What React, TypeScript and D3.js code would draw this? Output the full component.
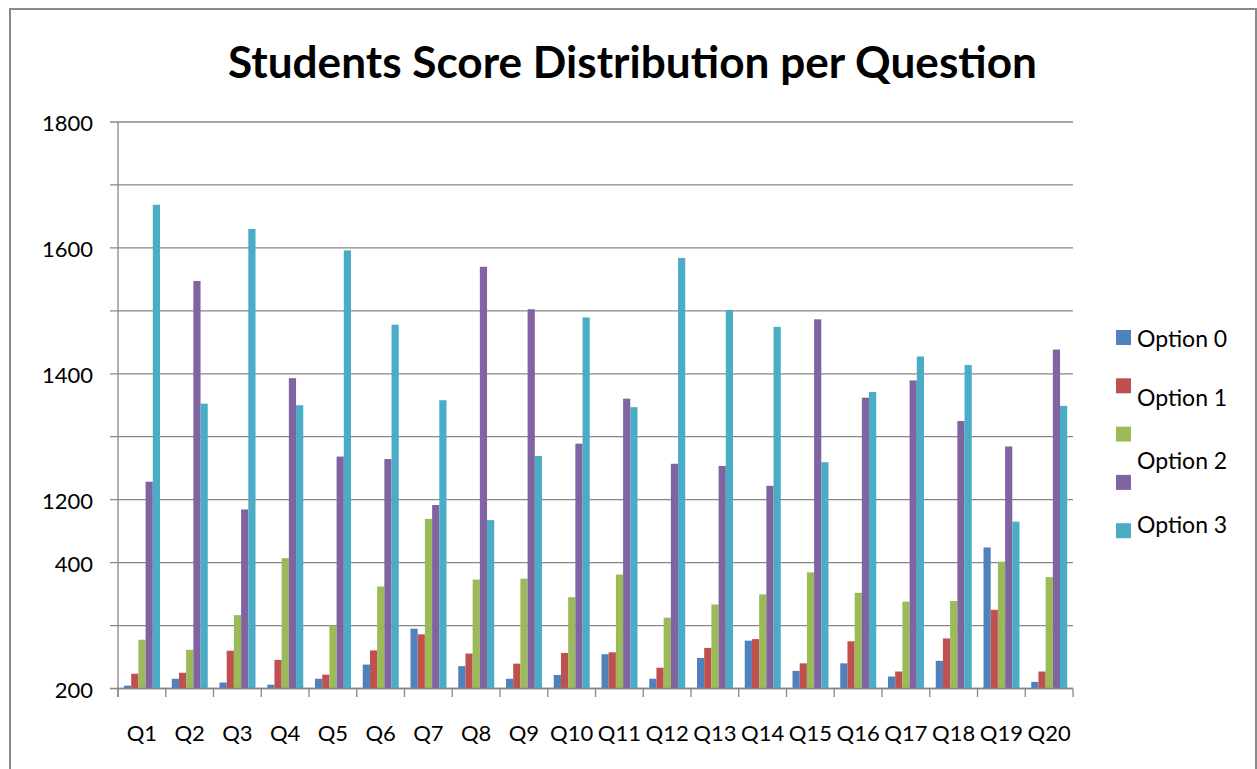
import React from "react";
import * as d3 from "d3";

const categories = ["Q1","Q2","Q3","Q4","Q5","Q6","Q7","Q8","Q9","Q10","Q11","Q12","Q13","Q14","Q15","Q16","Q17","Q18","Q19","Q20"];

const seriesA = [9, 31, 19, 12, 31, 76, 190, 71, 31, 43, 109, 31, 97, 152, 56, 80, 38, 88, 448, 21];
const seriesB = [47, 50, 120, 91, 44, 121, 172, 111, 79, 113, 115, 66, 129, 157, 80, 150, 54, 159, 250, 54];
const seriesC = [155, 123, 233, 414, 200, 324, 539, 346, 349, 290, 362, 225, 267, 299, 369, 304, 276, 278, 403, 354];
const seriesD = [657, 1295, 569, 986, 737, 729, 583, 1340, 1205, 778, 921, 714, 707, 644, 1173, 924, 979, 850, 769, 1077];
const seriesE = [1537, 905, 1460, 900, 1392, 1156, 916, 535, 739, 1179, 894, 1368, 1203, 1149, 719, 942, 1055, 1028, 530, 898];

const allSeries = [seriesA, seriesB, seriesC, seriesD, seriesE];
const seriesColors = ["#4F81BD", "#C0504D", "#9BBB59", "#8064A2", "#4BACC6"];
const legendLabels = ["Option 0", "Option 1", "Option 2", "Option 3"];

// gridline values (every 200) and their printed labels
const gridValues = [0, 200, 400, 600, 800, 1000, 1200, 1400, 1600, 1800];
const gridLabels = ["200", "", "400", "1200", "", "1400", "", "1600", "", "1800"];

const title = "Students Score Distribution per Question";

export default function App() {
  const W = 1257, H = 769;
  const left = 118, right = 1073, top = 122, bottom = 688.5;
  const font = "Lato, 'Open Sans', sans-serif";

  const x0 = d3.scaleBand<string>().domain(categories).range([left, right]).padding(0);
  const x1 = d3.scaleBand<number>().domain(d3.range(allSeries.length)).range([6, x0.bandwidth() - 5.75]).padding(0);
  const y = d3.scaleLinear().domain([0, 1800]).range([bottom, top]);

  const grid = "#878787";
  const legendX = 1116;
  const legendSquareY = [330, 378.3, 426.6, 474.9, 523.2];
  const legendTextY = [346.5, 405.5, 468.5, 532.5];

  return (
    <svg width={W} height={H} style={{ position: "absolute", left: 0, top: 0, background: "#fff" }}>
      <rect x={0} y={0} width={W} height={H} fill="#fff" />
      <rect x={10} y={9} width={1246} height={800} fill="none" stroke="#8a8a8a" strokeWidth={2} />
      <text x={632.5} y={78} textAnchor="middle" fontFamily={font} fontWeight="bold" fontSize={44} fill="#000"
        textLength={809} lengthAdjust="spacingAndGlyphs">{title}</text>

      {/* gridlines + y ticks */}
      {gridValues.map((v, i) => (
        <g key={"g" + i}>
          <line x1={110} x2={right} y1={y(v)} y2={y(v)} stroke={grid} strokeWidth={1.3} />
          {gridLabels[i] && (
            <text x={93} y={y(v) + 9} textAnchor="end" fontFamily={font} fontSize={22} fill="#000">{gridLabels[i]}</text>
          )}
        </g>
      ))}

      {/* bars */}
      {categories.map((c, ci) => (
        <g key={c} transform={`translate(${x0(c)},0)`}>
          {allSeries.map((s, si) => (
            <rect key={si} x={x1(si)} width={x1.bandwidth()} y={y(s[ci])} height={bottom - y(s[ci])} fill={seriesColors[si]} />
          ))}
        </g>
      ))}

      {/* axes */}
      <line x1={left} x2={left} y1={top} y2={697} stroke={grid} strokeWidth={1.3} />
      <line x1={left} x2={right} y1={bottom} y2={bottom} stroke={grid} strokeWidth={1.3} />
      {categories.map((c, i) => (
        <line key={"t" + i} x1={x0(c)!} x2={x0(c)!} y1={bottom} y2={697} stroke={grid} strokeWidth={1.3} />
      ))}
      <line x1={right} x2={right} y1={bottom} y2={697} stroke={grid} strokeWidth={1.3} />
      {categories.map((c) => (
        <text key={"l" + c} x={x0(c)! + x0.bandwidth() / 2} y={741} textAnchor="middle" fontFamily={font} fontSize={22} fill="#000">{c}</text>
      ))}

      {/* legend */}
      {seriesColors.map((col, i) => (
        <rect key={"ls" + i} x={legendX} y={legendSquareY[i]} width={15} height={15} fill={col} />
      ))}
      {legendLabels.map((l, i) => (
        <text key={"lt" + i} x={1137} y={legendTextY[i]} fontFamily={font} fontSize={23} fill="#000">{l}</text>
      ))}
    </svg>
  );
}
